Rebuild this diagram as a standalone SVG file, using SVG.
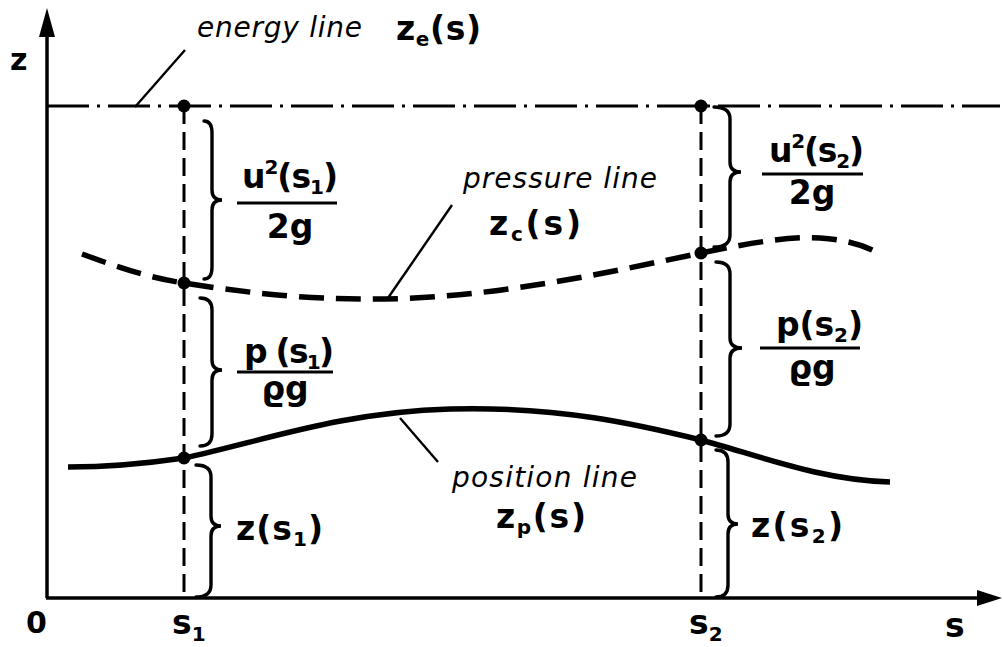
<svg xmlns="http://www.w3.org/2000/svg" width="1003" height="647" viewBox="0 0 1003 647">
<style>
.ax{stroke:#000;stroke-width:3.5;fill:none}
.en{stroke:#000;stroke-width:2.8;fill:none;stroke-dasharray:42 8 3 8}
.pr{stroke:#000;stroke-width:5.5;fill:none;stroke-dasharray:25 12}
.po{stroke:#000;stroke-width:5.5;fill:none}
.vd{stroke:#000;stroke-width:3;fill:none;stroke-dasharray:18 8}
.ld{stroke:#000;stroke-width:2.4;fill:none}
.br{stroke:#000;stroke-width:3.4;fill:none;stroke-linecap:round}
.fl{stroke:#000;stroke-width:3.2}
.it{font-family:"DejaVu Sans",sans-serif;font-style:italic;font-size:28px;fill:#000}
.m{font-family:"DejaVu Sans",sans-serif;font-weight:bold;font-size:33px;fill:#000}
.sub{font-size:20px}
.ctr{text-anchor:middle}
.num{font-family:"DejaVu Sans",sans-serif;font-weight:bold;font-size:30px;fill:#000}
</style>
<rect width="1003" height="647" fill="#fff"/>
<g id="axes">
<line class="ax" x1="47" y1="30" x2="47" y2="598"/>
<line class="ax" x1="46" y1="598" x2="985" y2="598"/>
<polygon points="47,8 39,37 55,37" fill="#000"/>
<polygon points="1002,598 977,590 977,606" fill="#000"/>
<text class="m" x="10" y="70" style="font-size:30px">z</text>
<text class="num" x="26" y="633">0</text>
<text class="m" x="172" y="634">s<tspan class="sub" dy="7">1</tspan></text>
<text class="m" x="689" y="634">s<tspan class="sub" dy="7">2</tspan></text>
<text class="m" x="945" y="637">s</text>
</g>
<g id="energy-line">
<line class="en" x1="47" y1="106" x2="1000" y2="106"/>
<text class="it" x="197" y="37" textLength="165" lengthAdjust="spacing">energy line</text>
<text class="m" x="396" y="40" textLength="85" lengthAdjust="spacing">z<tspan class="sub" dy="6">e</tspan><tspan dy="-6">(s)</tspan></text>
</g>
<g id="pressure-line">
<path class="pr" d="M82,254 C120,268 150,278 184,283 C260,295 320,300 385,299 C500,297 610,272 701,253 C750,243 790,236 820,238 C850,240 868,247 880,254"/>
<text class="it" x="463" y="188" textLength="194" lengthAdjust="spacing">pressure line</text>
<text class="m" x="489" y="235" textLength="92" lengthAdjust="spacing">z<tspan class="sub" dy="6">c</tspan><tspan dy="-6">(s)</tspan></text>
</g>
<g id="position-line">
<path class="po" d="M68,467 C110,467 150,463 184,458 C260,442 340,412 450,409 C560,406 640,425 701,440 C760,456 820,480 890,482"/>
<text class="it" x="452" y="487" textLength="185" lengthAdjust="spacing">position line</text>
<text class="m" x="496" y="528" textLength="90" lengthAdjust="spacing">z<tspan class="sub" dy="6">p</tspan><tspan dy="-6">(s)</tspan></text>
</g>
<g id="connectors">
<line class="vd" x1="184" y1="106" x2="184" y2="598"/>
<line class="vd" x1="701" y1="106" x2="701" y2="598"/>
<line class="ld" x1="135" y1="107" x2="185" y2="50"/>
<line class="ld" x1="388" y1="298" x2="452" y2="205"/>
<line class="ld" x1="400" y1="418" x2="438" y2="462"/>
</g>
<g id="points">
<circle cx="184" cy="106" r="6.5"/>
<circle cx="701" cy="106" r="6.5"/>
<circle cx="184" cy="283" r="6.5"/>
<circle cx="701" cy="253" r="6.5"/>
<circle cx="184" cy="458" r="6.5"/>
<circle cx="701" cy="440" r="6.5"/>
</g>
<g id="section-s1">
<path class="br" d="M204,121 Q212,121 212,133 L212,190 Q212,200 222,200 Q212,200 212,210 L212,267 Q212,279 204,279"/>
<text class="m" x="242" y="188" textLength="96" lengthAdjust="spacing">u<tspan class="sub" dy="-14">2</tspan><tspan dy="14">(s</tspan><tspan class="sub" dy="6">1</tspan><tspan dy="-6">)</tspan></text>
<line class="fl" x1="237" y1="203" x2="337" y2="203"/>
<text class="m ctr" x="290" y="238">2g</text>
<path class="br" d="M200,298 Q212,298 212,310 L212,360 Q212,370 222,370 Q212,370 212,380 L212,434 Q212,446 200,446"/>
<text class="m" x="244" y="363" textLength="90" lengthAdjust="spacing">p (s<tspan class="sub" dy="6">1</tspan><tspan dy="-6">)</tspan></text>
<line class="fl" x1="237" y1="372" x2="333" y2="372"/>
<text class="m ctr" x="285" y="400">ϱg</text>
<path class="br" d="M196,465 Q211,465 211,477 L211,516 Q211,526 221,526 Q211,526 211,536 L211,585 Q211,597 196,597"/>
<text class="m" x="236" y="540" textLength="87" lengthAdjust="spacing">z(s<tspan class="sub" dy="6">1</tspan><tspan dy="-6">)</tspan></text>
</g>
<g id="section-s2">
<path class="br" d="M714,107 Q730,107 730,119 L730,162 Q730,172 741,172 Q730,172 730,182 L730,235 Q730,247 714,247"/>
<text class="m" x="769" y="162" textLength="95" lengthAdjust="spacing">u<tspan class="sub" dy="-14">2</tspan><tspan dy="14">(s</tspan><tspan class="sub" dy="6">2</tspan><tspan dy="-6">)</tspan></text>
<line class="fl" x1="762" y1="174" x2="863" y2="174"/>
<text class="m ctr" x="812" y="204">2g</text>
<path class="br" d="M716,262 Q730,262 730,274 L730,338 Q730,348 742,348 Q730,348 730,358 L730,424 Q730,436 716,436"/>
<text class="m" x="776" y="336" textLength="87" lengthAdjust="spacing">p(s<tspan class="sub" dy="6">2</tspan><tspan dy="-6">)</tspan></text>
<line class="fl" x1="760" y1="348" x2="860" y2="348"/>
<text class="m ctr" x="812" y="379">ϱg</text>
<path class="br" d="M716,450 Q728,450 728,462 L728,514 Q728,524 738,524 Q728,524 728,534 L728,585 Q728,597 716,597"/>
<text class="m" x="751" y="537" textLength="92" lengthAdjust="spacing">z(s<tspan class="sub" dy="6">2</tspan><tspan dy="-6">)</tspan></text>
</g>
</svg>
